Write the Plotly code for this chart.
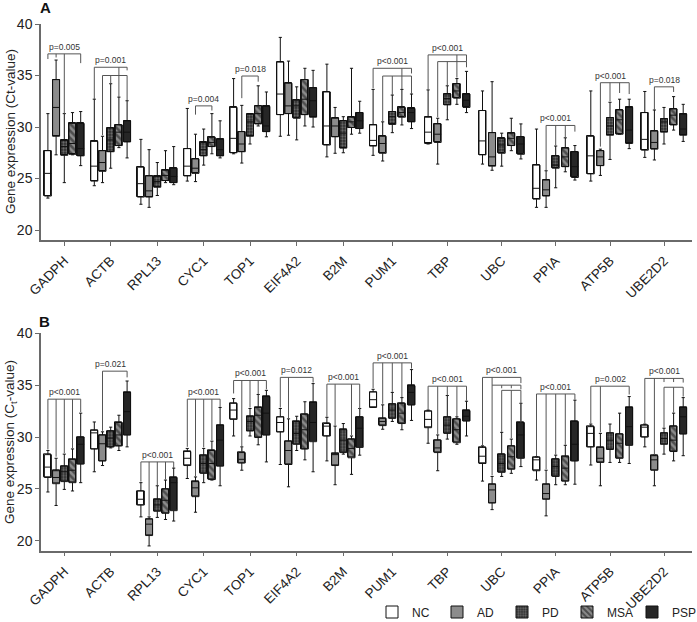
import plotly.graph_objects as go

# ---------------- data ----------------
genes = ["GADPH", "ACTB", "RPL13", "CYC1", "TOP1", "EIF4A2", "B2M", "PUM1",
         "TBP", "UBC", "PPIA", "ATP5B", "UBE2D2"]
groups = ["NC", "AD", "PD", "MSA", "PSP"]
y_ticks = [20, 25, 30, 35, 40]

# each entry: (lower whisker, Q1, median, Q3, upper whisker), one per gene
A_NC = [(23.1, 23.3, 25.5, 27.7, 31.3), (24.3, 24.75, 26.2, 28.6, 32.7), (22.5, 23.2, 24.5, 26.1, 28.8),
        (24.75, 25.25, 26.2, 27.9, 31.8), (27.4, 27.5, 28.9, 31.9, 34.7), (29.1, 31.2, 33.2, 36.3, 38.7),
        (27.1, 28.25, 30.1, 33.4, 36.1), (27.25, 28.15, 28.7, 30.2, 33.65), (28.35, 28.4, 29.5, 30.95, 33.6),
        (26.4, 27.3, 28.65, 31.6, 33.5), (22.2, 23.0, 24.05, 26.3, 29.8), (24.75, 25.45, 27.2, 29.1, 33.5),
        (27.05, 27.75, 28.8, 31.4, 33.45)]
A_AD = [(27.3, 29.1, 31.9, 34.6, 36.5), (24.6, 25.7, 26.55, 27.7, 29.1), (22.2, 23.2, 23.8, 25.25, 27.8),
        (24.7, 25.5, 26.0, 26.9, 29.3), (26.5, 27.6, 28.35, 29.55, 32.1), (29.2, 31.3, 32.05, 34.25, 36.4),
        (27.45, 29.05, 30.1, 30.85, 31.9), (26.7, 27.45, 28.4, 29.1, 30.5), (26.4, 28.5, 29.3, 30.3, 30.85),
        (25.8, 26.2, 27.1, 29.45, 34.4), (22.2, 23.3, 23.9, 24.85, 25.75), (25.3, 26.25, 27.1, 27.7, 27.85),
        (26.8, 27.85, 28.5, 29.6, 31.65)]
A_PD = [(24.6, 27.25, 28.1, 28.7, 31.3), (26.0, 27.6, 28.75, 29.9, 34.2), (23.35, 24.15, 24.7, 25.2, 26.55),
        (26.3, 27.2, 27.8, 28.5, 29.8), (28.35, 29.1, 30.5, 31.25, 31.3), (28.75, 30.85, 32.05, 32.6, 33.9),
        (27.5, 27.95, 29.4, 30.6, 31.0), (29.45, 30.25, 31.0, 31.5, 33.1), (30.7, 32.15, 32.75, 33.2, 34.0),
        (26.2, 27.45, 28.25, 28.9, 29.4), (24.1, 26.0, 26.3, 27.2, 28.15), (26.85, 29.2, 30.1, 30.9, 32.4),
        (28.35, 29.5, 30.5, 30.8, 31.9)]
A_MSA = [(27.3, 27.35, 28.4, 30.35, 31.4), (28.0, 28.2, 29.5, 30.2, 32.9), (24.6, 24.8, 25.3, 25.8, 27.7),
         (27.4, 28.1, 28.5, 29.0, 31.3), (30.1, 30.3, 31.3, 32.05, 34.0), (30.1, 31.2, 32.7, 34.6, 35.7),
         (29.3, 29.95, 30.5, 30.95, 35.7), (30.2, 30.95, 31.4, 31.9, 33.65), (32.2, 32.8, 33.5, 34.2, 34.7),
         (27.7, 28.2, 28.9, 29.4, 30.85), (25.65, 26.15, 27.1, 27.95, 28.95), (29.3, 29.3, 30.7, 31.65, 32.7),
         (29.7, 30.2, 31.15, 31.75, 32.95)]
A_PSP = [(26.25, 27.2, 27.9, 30.35, 31.5), (27.0, 28.55, 29.5, 30.6, 32.55), (24.4, 24.6, 25.2, 26.0, 28.1),
         (27.0, 27.2, 27.8, 28.8, 30.6), (29.05, 29.55, 30.1, 32.0, 33.4), (30.0, 30.95, 32.55, 33.8, 35.5),
         (29.4, 29.85, 30.6, 31.4, 32.5), (29.85, 30.5, 31.4, 31.8, 33.2), (31.4, 31.9, 32.6, 33.2, 35.4),
         (26.9, 27.35, 28.35, 29.05, 30.3), (24.85, 25.1, 26.15, 27.6, 28.2), (27.9, 28.4, 29.7, 31.9, 32.7),
         (28.6, 29.2, 29.8, 31.25, 32.2)]

B_NC = [(24.7, 26.1, 27.1, 28.3, 28.7), (26.65, 28.85, 30.4, 30.65, 31.45), (22.3, 23.45, 24.0, 24.8, 25.6),
        (26.0, 27.25, 27.95, 28.6, 28.9), (30.1, 31.7, 32.6, 33.25, 33.7), (27.35, 30.5, 31.4, 31.95, 32.75),
        (27.7, 30.1, 31.05, 31.3, 31.9), (32.85, 32.85, 33.6, 34.35, 34.6), (29.4, 30.9, 31.7, 32.5, 32.6),
        (25.75, 27.45, 28.15, 29.0, 29.15), (25.85, 26.75, 27.8, 28.05, 28.1), (27.3, 29.05, 30.35, 31.0, 31.25),
        (29.05, 30.0, 30.95, 31.15, 31.25)]
B_AD = [(23.4, 25.5, 26.1, 26.75, 27.95), (27.25, 27.7, 29.35, 30.2, 30.5), (19.5, 20.5, 21.6, 22.1, 22.3),
        (22.75, 24.25, 25.1, 25.7, 26.15), (26.8, 27.5, 27.85, 28.5, 29.05), (25.2, 27.35, 28.7, 29.6, 31.75),
        (25.4, 27.25, 28.3, 28.4, 31.05), (30.75, 31.1, 31.5, 31.8, 33.1), (26.75, 28.5, 28.95, 29.7, 30.2),
        (23.0, 23.65, 24.9, 25.45, 26.2), (22.4, 24.0, 24.55, 25.45, 26.8), (25.3, 27.55, 27.95, 29.0, 30.35),
        (25.3, 26.8, 27.8, 28.2, 28.25)]
B_PD = [(24.95, 25.7, 26.65, 27.2, 28.35), (28.95, 29.05, 29.9, 30.6, 30.95), (22.25, 22.85, 23.45, 24.0, 25.3),
        (25.6, 26.5, 27.45, 28.25, 28.9), (30.1, 30.6, 31.5, 32.0, 32.75), (28.7, 29.3, 30.35, 31.5, 32.0),
        (28.35, 28.5, 29.7, 30.7, 31.3), (31.5, 31.8, 32.6, 33.2, 34.3), (29.8, 30.35, 31.15, 31.95, 34.0),
        (26.2, 26.6, 27.45, 28.35, 30.45), (25.4, 26.2, 27.15, 27.9, 28.25), (27.55, 28.8, 29.7, 30.4, 31.25),
        (28.35, 29.3, 29.85, 30.4, 30.85)]
B_MSA = [(24.8, 25.6, 26.8, 27.85, 28.85), (28.7, 29.15, 30.2, 31.4, 32.1), (22.05, 22.65, 23.9, 25.0, 25.85),
         (25.85, 25.9, 27.45, 28.7, 29.6), (29.25, 29.95, 32.1, 32.85, 34.1), (27.8, 28.85, 30.7, 32.2, 33.4),
         (26.4, 28.0, 28.9, 29.8, 30.1), (30.7, 31.3, 32.3, 33.25, 33.8), (29.3, 29.45, 30.7, 31.75, 31.95),
         (26.5, 26.9, 28.1, 29.15, 29.8), (25.4, 25.75, 27.0, 28.1, 29.2), (27.55, 27.95, 29.4, 30.3, 32.3),
         (27.7, 28.6, 29.7, 31.05, 32.3)]
B_PSP = [(25.6, 27.4, 29.3, 30.0, 32.3), (29.05, 30.2, 32.45, 34.3, 35.4), (21.9, 22.9, 25.6, 26.1, 27.0),
         (25.3, 27.2, 29.7, 31.15, 32.85), (27.6, 30.2, 32.3, 33.9, 34.5), (26.65, 29.55, 31.4, 33.35, 35.15),
         (28.25, 29.0, 30.85, 31.95, 32.75), (31.6, 33.1, 34.3, 34.95, 36.5), (30.1, 31.55, 32.0, 32.55, 33.45),
         (27.15, 27.95, 30.2, 31.4, 33.25), (25.45, 27.7, 29.3, 31.5, 33.55), (27.45, 29.2, 31.0, 32.85, 33.9),
         (28.2, 30.3, 31.95, 32.85, 33.8)]

# significance brackets: (gene index, bracket level, [(group index, drop end)], label)
A_brackets = [
    (0, 37.1, [(0, 36.6), (1, 36.75), (2, 31.3), (4, 36.2)], "p=0.005"),
    (1, 35.8, [(0, 32.7), (3, 35.0), (4, 35.5)], "p=0.001"),
    (1, 35.0, [(1, 29.2), (2, 34.2), (3, 32.9), (4, 32.6)], ""),
    (3, 32.05, [(1, 31.2), (3, 31.6)], "p=0.004"),
    (4, 34.95, [(1, 32.8), (3, 34.4)], "p=0.018"),
    (7, 35.7, [(0, 33.75), (3, 34.95), (4, 35.2)], "p<0.001"),
    (7, 34.95, [(1, 30.5), (2, 33.1), (3, 33.65), (4, 33.2)], ""),
    (8, 37.0, [(0, 33.65), (3, 36.35), (4, 36.35)], "p<0.001"),
    (8, 36.35, [(1, 30.95), (2, 34.05), (3, 34.8), (4, 35.8)], ""),
    (10, 30.15, [(1, 25.8), (2, 28.2), (3, 28.95), (4, 29.55)], "p<0.001"),
    (11, 34.3, [(1, 28.1), (2, 32.5), (3, 33.3), (4, 33.2)], "p<0.001"),
    (12, 33.9, [(1, 31.65), (3, 33.4)], "p=0.018"),
]
B_brackets = [
    (0, 33.65, [(0, 28.8), (1, 28.1), (2, 28.45), (3, 28.9), (4, 32.4)], "p<0.001"),
    (1, 36.35, [(1, 30.6), (4, 35.75)], "p=0.021"),
    (2, 27.6, [(0, 25.7), (1, 22.4), (2, 25.35), (3, 25.9), (4, 27.0)], "p<0.001"),
    (3, 33.65, [(0, 29.05), (1, 26.2), (2, 29.0), (3, 29.7), (4, 32.9)], "p<0.001"),
    (4, 35.45, [(0, 34.2), (1, 28.6), (2, 32.85), (3, 34.1), (4, 34.6)], "p<0.001"),
    (5, 35.75, [(0, 32.85), (1, 31.8), (4, 35.25)], "p=0.012"),
    (6, 35.1, [(0, 31.95), (1, 31.1), (3, 30.2), (4, 32.1)], "p<0.001"),
    (7, 37.15, [(0, 34.7), (1, 33.2), (2, 34.35), (3, 33.85), (4, 36.6)], "p<0.001"),
    (8, 34.9, [(0, 32.6), (1, 30.3), (2, 34.0), (3, 32.0), (4, 33.5)], "p<0.001"),
    (9, 35.75, [(0, 29.2), (1, 26.3), (4, 35.2)], "p<0.001"),
    (9, 35.0, [(1, 35.0), (2, 34.7), (3, 34.7), (4, 34.6)], ""),
    (9, 34.5, [(2, 30.5), (3, 29.9), (4, 31.4)], ""),
    (10, 34.15, [(0, 28.15), (1, 26.9), (2, 28.3), (3, 29.25), (4, 33.6)], "p<0.001"),
    (11, 34.9, [(0, 31.3), (1, 30.45), (4, 34.1)], "p=0.002"),
    (12, 35.65, [(0, 31.3), (1, 28.3), (2, 35.3), (3, 35.3), (4, 35.25)], "p<0.001"),
    (12, 34.8, [(2, 30.9), (3, 32.35), (4, 33.9)], ""),
]

# ---------------- layout constants ----------------
GENE_X = [64.3, 110.7, 157.3, 203.7, 250, 296.7, 343.3, 392.3, 447.3, 501.7, 555.7, 610, 664]
SLOT = [8.2] * 7 + [9.6] * 6
BOX_W = 7.0

STYLE = {
    "NC": dict(color="white"),
    "AD": dict(color="#8c8c8c"),
    "PD": dict(color="#2e2e2e", pattern=dict(shape=".", fgcolor="#a5a5a5", bgcolor="#2e2e2e",
                                             size=3, solidity=0.45)),
    "MSA": dict(color="#777777", pattern=dict(shape="\\", fgcolor="#111111", bgcolor="#8a8a8a",
                                              size=5, solidity=0.5)),
    "PSP": dict(color="#262626"),
}

panels = [
    ({"NC": A_NC, "AD": A_AD, "PD": A_PD, "MSA": A_MSA, "PSP": A_PSP}, A_brackets, "x", "y"),
    ({"NC": B_NC, "AD": B_AD, "PD": B_PD, "MSA": B_MSA, "PSP": B_PSP}, B_brackets, "x2", "y2"),
]

fig = go.Figure()
annotations = []
for pi, (data, brackets, xa, ya) in enumerate(panels):
    for g, grp in enumerate(groups):
        stats = data[grp]
        xs = [GENE_X[i] + (g - 2) * SLOT[i] for i in range(len(genes))]
        lo = [s[0] for s in stats]
        q1 = [s[1] for s in stats]
        med = [s[2] for s in stats]
        q3 = [s[3] for s in stats]
        hi = [s[4] for s in stats]
        st = STYLE[grp]
        marker = dict(color=st["color"], line=dict(width=1, color="#111111"))
        if "pattern" in st:
            marker["pattern"] = st["pattern"]
        fig.add_trace(go.Bar(
            x=xs, base=q1, y=[b - a for a, b in zip(q1, q3)], width=BOX_W,
            marker=marker, name=grp, legendgroup=grp, showlegend=(pi == 0),
            xaxis=xa, yaxis=ya, hoverinfo="skip"))
        fig.add_trace(go.Box(
            x=xs, lowerfence=lo, q1=q1, median=med, q3=q3, upperfence=hi,
            width=BOX_W, whiskerwidth=0.45, fillcolor="rgba(0,0,0,0)",
            line=dict(color="#111111", width=1), boxpoints=False,
            showlegend=False, legendgroup=grp, xaxis=xa, yaxis=ya))
    bx, by = [], []
    for gi, level, drops, label in brackets:
        pos = {gr: GENE_X[gi] + (gr - 2) * SLOT[gi] for gr, _ in drops}
        x_lo, x_hi = min(pos.values()), max(pos.values())
        bx += [x_lo, x_hi, None]
        by += [level, level, None]
        for gr, end in drops:
            bx += [pos[gr], pos[gr], None]
            by += [level, end, None]
        if label:
            annotations.append(dict(
                x=GENE_X[gi], y=level, xref=xa, yref=ya, text=label, showarrow=False,
                xanchor="center", yanchor="bottom", yshift=0,
                font=dict(size=8.5, color="#333333", family="Liberation Sans, Arial")))
    fig.add_trace(go.Scatter(x=bx, y=by, mode="lines", line=dict(color="#555555", width=1),
                             showlegend=False, hoverinfo="skip", xaxis=xa, yaxis=ya))

H = 622.0
axis_common = dict(showline=True, linecolor="#6a6a6a", linewidth=1.5, ticks="outside",
                   ticklen=4, tickwidth=1.2, tickcolor="#6a6a6a", showgrid=False,
                   zeroline=False)
xcommon = dict(axis_common, range=[41, 692], tickmode="array", tickvals=GENE_X,
               ticktext=genes, tickangle=-45, ticklabelstandoff=2,
               tickfont=dict(size=13.5, color="#222222", family="Liberation Sans, Arial"))
ycommon = dict(axis_common, tickmode="array", tickvals=y_ticks,
               ticktext=[str(v) for v in y_ticks],
               tickfont=dict(size=14, color="#222222", family="Liberation Sans, Arial"))

fig.update_layout(
    width=697, height=622,
    margin=dict(l=41, r=5, t=0, b=0, autoexpand=False),
    paper_bgcolor="white", plot_bgcolor="white",
    barmode="overlay", boxmode="overlay", bargap=0,
    xaxis=dict(xcommon, domain=[0, 1], anchor="y"),
    yaxis=dict(ycommon, domain=[1 - 240 / H, 1 - 24 / H], range=[19.03, 40], anchor="x"),
    xaxis2=dict(xcommon, domain=[0, 1], anchor="y2"),
    yaxis2=dict(ycommon, domain=[1 - 550.7 / H, 1 - 333.3 / H], range=[19.04, 40], anchor="x2"),
    showlegend=True,
    legend=dict(orientation="h", x=(372 - 41) / 651, y=1 - 612 / H, xanchor="left",
                yanchor="middle", bgcolor="rgba(0,0,0,0)", entrywidth=20,
                entrywidthmode="pixels", traceorder="normal",
                font=dict(size=12, color="#222222", family="Liberation Sans, Arial")),
    font=dict(family="Liberation Sans, Arial", color="#222222"),
)

annotations += [
    dict(text="<b>A</b>", x=(45 - 41) / 651, y=1 - 8 / H, xref="paper", yref="paper",
         xanchor="center", yanchor="middle",
         showarrow=False, font=dict(size=15, color="#111111")),
    dict(text="<b>B</b>", x=(44.5 - 41) / 651, y=1 - 321.5 / H, xref="paper", yref="paper",
         xanchor="center", yanchor="middle",
         showarrow=False, font=dict(size=15, color="#111111")),
    dict(text="Gene expression (Ct-value)", textangle=-90, x=(10 - 41) / 651,
         y=1 - 132 / H, xref="paper", yref="paper", showarrow=False,
         xanchor="center", yanchor="middle",
         font=dict(size=13.5, color="#222222")),
    dict(text="Gene expression (C<sub>t</sub>-value)", textangle=-90, x=(10 - 41) / 651,
         y=1 - 442 / H, xref="paper", yref="paper", showarrow=False,
         xanchor="center", yanchor="middle",
         font=dict(size=13.5, color="#222222")),
]
fig.update_layout(annotations=annotations)

fig.write_html("out.html", config={"displayModeBar": False},
               post_script="document.body.style.margin='0px';document.body.style.padding='0px';")
